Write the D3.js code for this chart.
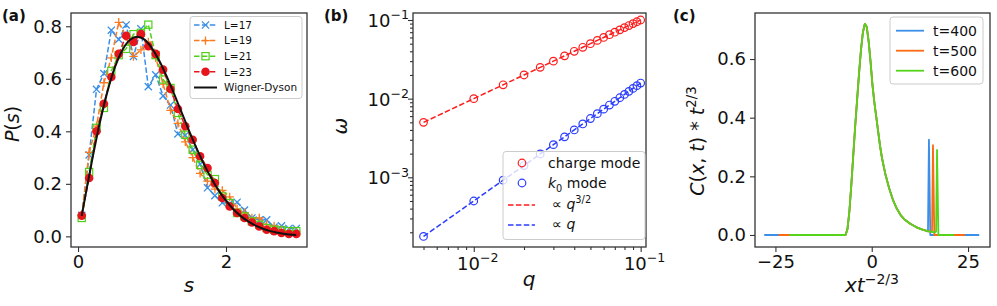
<!DOCTYPE html>
<html>
<head>
<meta charset="utf-8">
<script src="https://cdn.jsdelivr.net/npm/d3@7"></script>
<style>
body { margin: 0; background: #fff; }
svg { font-family: "DejaVu Sans", sans-serif; }
</style>
</head>
<body>
<svg id="fig" width="997" height="306"></svg>
<script>
// ---------- data ----------

// panel (a): level spacing distribution
var sVals = [0.05, 0.15, 0.25, 0.35, 0.45, 0.55, 0.65, 0.75, 0.85, 0.95,
             1.05, 1.15, 1.25, 1.35, 1.45, 1.55, 1.65, 1.75, 1.85, 1.95,
             2.05, 2.15, 2.25, 2.35, 2.45, 2.55, 2.65, 2.75, 2.85, 2.95];
var pL17 = [0.08, 0.31, 0.56, 0.62, 0.785, 0.75, 0.805, 0.685, 0.79, 0.57,
            0.615, 0.535, 0.50, 0.39, 0.385, 0.33, 0.275, 0.185, 0.155, 0.128,
            0.125, 0.13, 0.10, 0.07, 0.062, 0.063, 0.035, 0.04, 0.03, 0.03];
var pL19 = [0.08, 0.32, 0.42, 0.585, 0.68, 0.815, 0.76, 0.685, 0.71, 0.74,
            0.68, 0.58, 0.48, 0.43, 0.36, 0.30, 0.24, 0.21, 0.18, 0.175,
            0.15, 0.105, 0.09, 0.07, 0.07, 0.045, 0.04, 0.025, 0.02, 0.02];
var pL21 = [0.07, 0.245, 0.413, 0.489, 0.63, 0.69, 0.714, 0.77, 0.775, 0.806,
            0.69, 0.597, 0.565, 0.47, 0.387, 0.33, 0.272, 0.235, 0.218, 0.152,
            0.127, 0.089, 0.076, 0.057, 0.044, 0.032, 0.025, 0.023, 0.02, 0.02];
var pL23 = [0.079, 0.222, 0.40, 0.505, 0.607, 0.695, 0.764, 0.74, 0.77, 0.724,
            0.695, 0.635, 0.561, 0.485, 0.419, 0.368, 0.305, 0.26, 0.203, 0.146,
            0.114, 0.089, 0.07, 0.053, 0.038, 0.025, 0.02, 0.013, 0.009, 0.009];
var wdS = [0.05, 0.1, 0.2, 0.3, 0.4, 0.5, 0.6, 0.7, 0.8, 0.9, 1.0, 1.1, 1.2, 1.3, 1.4, 1.5,
           1.6, 1.7, 1.8, 1.9, 2.0, 2.1, 2.2, 2.3, 2.4, 2.5, 2.6, 2.7, 2.8, 2.9, 2.95];
var wdP = [0.078, 0.156, 0.304, 0.439, 0.554, 0.645, 0.710, 0.748, 0.760, 0.749, 0.716, 0.668,
           0.608, 0.542, 0.472, 0.403, 0.337, 0.276, 0.222, 0.175, 0.136, 0.103, 0.077,
           0.057, 0.041, 0.029, 0.020, 0.014, 0.009, 0.006, 0.005];
var aTicksX = [0, 2];
var aTicksY = [0.0, 0.2, 0.4, 0.6, 0.8];

// panel (b): dispersion
var qVals = [0.005, 0.01, 0.015, 0.02, 0.025, 0.03, 0.035, 0.04, 0.045, 0.05,
             0.055, 0.06, 0.065, 0.07, 0.075, 0.08, 0.085, 0.09, 0.095, 0.1];
var wCharge = [0.005, 0.01, 0.015, 0.02, 0.025, 0.03, 0.035, 0.04, 0.045, 0.05,
               0.055, 0.06, 0.065, 0.07, 0.075, 0.08, 0.085, 0.09, 0.095, 0.1];
var wK0 = [0.000177, 0.0005, 0.000919, 0.00141, 0.00198, 0.0026, 0.00327, 0.004, 0.00477, 0.00559,
           0.00645, 0.00735, 0.00829, 0.00926, 0.01027, 0.01131, 0.01239, 0.0135, 0.01464, 0.0158];
var bTicksX = [0.01, 0.1];
var bTicksY = [0.001, 0.01, 0.1];

// panel (c): scaled correlation profile
var peakX = [-6.8, -6.3, -5.8, -5.3, -4.8, -4.3, -3.8, -3.3, -2.8, -2.3, -1.8, -1.3, -0.8, -0.3,
             0.2, 0.7, 1.2, 1.7, 2.2, 2.7, 3.5, 4.5, 5.5, 6.5, 7.5, 8.5, 10, 11.5, 13, 14.5, 15.5, 16.5];
var peakY = [0, 0.02, 0.08, 0.17, 0.27, 0.37, 0.46, 0.55, 0.63, 0.69, 0.72, 0.71, 0.66, 0.59,
             0.51, 0.45, 0.40, 0.35, 0.30, 0.26, 0.21, 0.16, 0.12, 0.09, 0.068, 0.053, 0.038, 0.027,
             0.019, 0.013, 0.011, 0.009];
var tLabels = ["t=400", "t=500", "t=600"];
var spikeX = [14.85, 15.9, 16.95];
var spikeH = [0.325, 0.306, 0.29];
var edgeX = [27.9, 24.2, 21.4];
var cTicksX = [-25, 0, 25];
var cTicksY = [0.0, 0.2, 0.4, 0.6];

// ---------- helpers ----------
var svg = d3.select("#fig");
var spine = "#333";
var tickFont = 18;

function frame(x0, y0, x1, y1) {
    svg.append("rect")
        .attr("x", x0).attr("y", y0)
        .attr("width", x1 - x0).attr("height", y1 - y0)
        .attr("fill", "none").attr("stroke", spine).attr("stroke-width", 1.3);
}

function styleAxis(g) {
    g.selectAll("path.domain").remove();
    g.selectAll(".tick line").attr("stroke", spine).attr("stroke-width", 1.1);
    g.selectAll(".tick text")
        .attr("font-size", tickFont)
        .attr("font-family", "DejaVu Sans")
        .attr("fill", "#111");
}

// text made of pieces, some italic, some raised/lowered
function richText(parent, parts, size) {
    var t = parent.append("text").attr("font-size", size).attr("fill", "#111");
    parts.forEach(function (p) {
        var ts = t.append("tspan").text(p.t);
        if (p.i) ts.attr("font-style", "italic");
        if (p.sup) ts.attr("font-size", size * 0.7).attr("dy", -size * 0.42);
        if (p.sub) ts.attr("font-size", size * 0.7).attr("dy", size * 0.25);
        if (p.back) ts.attr("dy", p.back);
    });
    return t;
}

function marker(g, type, cx, cy, color) {
    var r = 3.6;
    if (type === "x") {
        g.append("path").attr("d", "M" + (cx - r) + "," + (cy - r) + "L" + (cx + r) + "," + (cy + r) +
            "M" + (cx - r) + "," + (cy + r) + "L" + (cx + r) + "," + (cy - r))
            .attr("stroke", color).attr("stroke-width", 1.3).attr("fill", "none");
    } else if (type === "+") {
        r = 4.2;
        g.append("path").attr("d", "M" + (cx - r) + "," + cy + "L" + (cx + r) + "," + cy +
            "M" + cx + "," + (cy - r) + "L" + cx + "," + (cy + r))
            .attr("stroke", color).attr("stroke-width", 1.3).attr("fill", "none");
    } else if (type === "s") {
        g.append("rect").attr("x", cx - r).attr("y", cy - r).attr("width", 2 * r).attr("height", 2 * r)
            .attr("stroke", color).attr("stroke-width", 1.2).attr("fill", "none");
    } else if (type === "o") {
        g.append("circle").attr("cx", cx).attr("cy", cy).attr("r", 4.3).attr("fill", color);
    } else if (type === "ring") {
        g.append("circle").attr("cx", cx).attr("cy", cy).attr("r", 3.8)
            .attr("fill", "none").attr("stroke", color).attr("stroke-width", 1.2);
    }
}

function legendBox(x0, y0, x1, y1) {
    svg.append("rect")
        .attr("x", x0).attr("y", y0).attr("width", x1 - x0).attr("height", y1 - y0)
        .attr("rx", 3).attr("fill", "#fff").attr("fill-opacity", 0.8)
        .attr("stroke", "#ccc").attr("stroke-width", 1);
}

// ---------- panel (a) ----------
var xa = d3.scaleLinear().domain([-0.095, 3.095]).range([71, 307]);
var ya = d3.scaleLinear().domain([-0.0405, 0.8505]).range([247, 13]);

var aSeries = [
    { name: "L=17", vals: pL17, color: "#3a8ee6", mk: "x" },
    { name: "L=19", vals: pL19, color: "#fa7a20", mk: "+" },
    { name: "L=21", vals: pL21, color: "#4fd11b", mk: "s" },
    { name: "L=23", vals: pL23, color: "#e8141c", mk: "o" }
];

var lineA = d3.line().x(function (d) { return xa(d[0]); }).y(function (d) { return ya(d[1]); });
var ga = svg.append("g");

aSeries.forEach(function (s) {
    var pts = sVals.map(function (v, i) { return [v, s.vals[i]]; });
    ga.append("path").attr("d", lineA(pts))
        .attr("fill", "none").attr("stroke", s.color).attr("stroke-width", 1.5)
        .attr("stroke-dasharray", "5.5,2.4");
    pts.forEach(function (p) { marker(ga, s.mk, xa(p[0]), ya(p[1]), s.color); });
});

ga.append("path")
    .attr("d", lineA.curve(d3.curveMonotoneX)(wdS.map(function (v, i) { return [v, wdP[i]]; })))
    .attr("fill", "none").attr("stroke", "#111").attr("stroke-width", 2);

svg.append("g").attr("transform", "translate(0,247)")
    .call(d3.axisBottom(xa).tickValues(aTicksX).tickSize(5).tickPadding(3).tickFormat(d3.format("d")))
    .call(styleAxis);
svg.append("g").attr("transform", "translate(71,0)")
    .call(d3.axisLeft(ya).tickValues(aTicksY).tickSize(5).tickPadding(4).tickFormat(d3.format(".1f")))
    .call(styleAxis);
frame(71, 13, 307, 247);

// legend (a)
legendBox(190, 16.5, 302, 98.5);
aSeries.forEach(function (s, i) {
    var y = 25 + i * 15.6;
    svg.append("line").attr("x1", 194).attr("x2", 217).attr("y1", y).attr("y2", y)
        .attr("stroke", s.color).attr("stroke-width", 1.5).attr("stroke-dasharray", "5.5,2.4");
    marker(svg, s.mk, 205.5, y, s.color);
    svg.append("text").attr("x", 224).attr("y", y + 3.8).attr("font-size", 10.5)
        .attr("fill", "#111").text(s.name);
});
svg.append("line").attr("x1", 194).attr("x2", 217).attr("y1", 87.5).attr("y2", 87.5)
    .attr("stroke", "#111").attr("stroke-width", 2);
svg.append("text").attr("x", 224).attr("y", 91.3).attr("font-size", 10.5)
    .attr("fill", "#111").text("Wigner-Dyson");

richText(svg, [{ t: "P", i: true }, { t: "(" }, { t: "s", i: true }, { t: ")" }], 19)
    .attr("text-anchor", "middle").attr("transform", "translate(19,124) rotate(-90)");
richText(svg, [{ t: "s", i: true }], 20)
    .attr("text-anchor", "middle").attr("x", 189).attr("y", 292);
svg.append("text").attr("x", 2).attr("y", 21).attr("font-size", 15)
    .attr("font-weight", "bold").attr("fill", "#111").text("(a)");

// ---------- panel (b) ----------
var xb = d3.scaleLog().domain([Math.pow(10, -2.364), Math.pow(10, -0.968)]).range([413, 646]);
var yb = d3.scaleLog().domain([Math.pow(10, -3.886), Math.pow(10, -0.911)]).range([247, 13]);

var lineB = d3.line().x(function (d) { return xb(d[0]); }).y(function (d) { return yb(d[1]); });
var gb = svg.append("g");
var bSeries = [
    { vals: wCharge, color: "#ff1a1a" },
    { vals: wK0, color: "#2a3cff" }
];
bSeries.forEach(function (s) {
    var pts = qVals.map(function (q, i) { return [q, s.vals[i]]; });
    gb.append("path").attr("d", lineB(pts))
        .attr("fill", "none").attr("stroke", s.color).attr("stroke-width", 1.5)
        .attr("stroke-dasharray", "5.5,2.4");
    pts.forEach(function (p) { marker(gb, "ring", xb(p[0]), yb(p[1]), s.color); });
});

// minor ticks for the log axes
var minorX = [0.005, 0.006, 0.007, 0.008, 0.009, 0.02, 0.03, 0.04, 0.05, 0.06, 0.07, 0.08, 0.09];
var minorY = [0.0002, 0.0003, 0.0004, 0.0005, 0.0006, 0.0007, 0.0008, 0.0009,
              0.002, 0.003, 0.004, 0.005, 0.006, 0.007, 0.008, 0.009,
              0.02, 0.03, 0.04, 0.05, 0.06, 0.07, 0.08, 0.09];
svg.append("g").attr("transform", "translate(0,247)")
    .call(d3.axisBottom(xb).tickValues(bTicksX).tickSize(5).tickFormat(function () { return ""; }))
    .call(styleAxis);
svg.append("g").attr("transform", "translate(0,247)")
    .call(d3.axisBottom(xb).tickValues(minorX).tickSize(3).tickFormat(function () { return ""; }))
    .call(styleAxis);
svg.append("g").attr("transform", "translate(413,0)")
    .call(d3.axisLeft(yb).tickValues(bTicksY).tickSize(5).tickFormat(function () { return ""; }))
    .call(styleAxis);
svg.append("g").attr("transform", "translate(413,0)")
    .call(d3.axisLeft(yb).tickValues(minorY).tickSize(3).tickFormat(function () { return ""; }))
    .call(styleAxis);

function expLabel(v) { return "\u2212" + Math.round(-Math.log10(v)); }
bTicksX.forEach(function (v) {
    richText(svg, [{ t: "10" }, { t: expLabel(v), sup: true }], tickFont)
        .attr("text-anchor", "middle").attr("x", xb(v) + 4).attr("y", 270);
});
bTicksY.forEach(function (v) {
    richText(svg, [{ t: "10" }, { t: expLabel(v), sup: true }], tickFont)
        .attr("text-anchor", "end").attr("x", 409).attr("y", yb(v) + 7);
});
frame(413, 13, 646, 247);

// legend (b)
legendBox(503, 151.5, 645, 239.5);
marker(svg, "ring", 522, 163, "#ff1a1a");
richText(svg, [{ t: "charge mode" }], 14).attr("x", 548).attr("y", 168);
marker(svg, "ring", 522, 183, "#2a3cff");
richText(svg, [{ t: "k", i: true }, { t: "0", sub: true }, { t: " mode", back: -3.5 }], 14)
    .attr("x", 548).attr("y", 188);
svg.append("line").attr("x1", 508).attr("x2", 535).attr("y1", 205).attr("y2", 205)
    .attr("stroke", "#ff1a1a").attr("stroke-width", 1.5).attr("stroke-dasharray", "5.5,2.4");
richText(svg, [{ t: "\u221d " }, { t: "q", i: true }, { t: "3/2", sup: true }], 14)
    .attr("x", 552).attr("y", 209);
svg.append("line").attr("x1", 508).attr("x2", 535).attr("y1", 225).attr("y2", 225)
    .attr("stroke", "#2a3cff").attr("stroke-width", 1.5).attr("stroke-dasharray", "5.5,2.4");
richText(svg, [{ t: "\u221d " }, { t: "q", i: true }], 14)
    .attr("x", 552).attr("y", 229);

richText(svg, [{ t: "\u03c9", i: true }], 20)
    .attr("text-anchor", "middle").attr("transform", "translate(347,126) rotate(-90)");
richText(svg, [{ t: "q", i: true }], 20)
    .attr("text-anchor", "middle").attr("x", 529).attr("y", 286);
svg.append("text").attr("x", 324).attr("y", 21).attr("font-size", 15)
    .attr("font-weight", "bold").attr("fill", "#111").text("(b)");

// ---------- panel (c) ----------
var xc = d3.scaleLinear().domain([-30.3, 30.7]).range([755, 990]);
var yc = d3.scaleLinear().domain([-0.041, 0.757]).range([247, 13]);
var cColors = ["#3c8fe8", "#fd6a14", "#55d41a"];

var lineC = d3.line().x(function (d) { return xc(d[0]); }).y(function (d) { return yc(d[1]); });
var gc = svg.append("g");

tLabels.forEach(function (lab, k) {
    var pts = [[-edgeX[k], 0]];
    peakX.forEach(function (x, i) {
        if (x < spikeX[k] - 0.3) pts.push([x, peakY[i]]);
    });
    pts.push([spikeX[k] - 0.25, 0.012]);
    pts.push([spikeX[k], spikeH[k]]);
    pts.push([spikeX[k] + 0.35, 0]);
    pts.push([edgeX[k], 0]);
    gc.append("path").attr("d", lineC(pts))
        .attr("fill", "none").attr("stroke", cColors[k]).attr("stroke-width", 1.8)
        .attr("stroke-linejoin", "round");
});

svg.append("g").attr("transform", "translate(0,247)")
    .call(d3.axisBottom(xc).tickValues(cTicksX).tickSize(5).tickPadding(3).tickFormat(d3.format("d")))
    .call(styleAxis);
svg.append("g").attr("transform", "translate(755,0)")
    .call(d3.axisLeft(yc).tickValues(cTicksY).tickSize(5).tickPadding(4).tickFormat(d3.format(".1f")))
    .call(styleAxis);
frame(755, 13, 990, 247);

// legend (c)
legendBox(890, 17, 983, 84);
tLabels.forEach(function (lab, k) {
    var y = 30.7 + k * 20;
    svg.append("line").attr("x1", 896).attr("x2", 924).attr("y1", y).attr("y2", y)
        .attr("stroke", cColors[k]).attr("stroke-width", 1.8);
    svg.append("text").attr("x", 933).attr("y", y + 5).attr("font-size", 14)
        .attr("fill", "#111").text(lab);
});

richText(svg, [{ t: "C", i: true }, { t: "(" }, { t: "x", i: true }, { t: ", " }, { t: "t", i: true },
               { t: ") * " }, { t: "t", i: true }, { t: "2/3", sup: true }], 19)
    .attr("text-anchor", "middle").attr("transform", "translate(704,141) rotate(-90)");
richText(svg, [{ t: "xt", i: true }, { t: "\u22122/3", sup: true }], 20)
    .attr("text-anchor", "middle").attr("x", 872).attr("y", 292);
svg.append("text").attr("x", 673).attr("y", 21).attr("font-size", 15)
    .attr("font-weight", "bold").attr("fill", "#111").text("(c)");
</script>
</body>
</html>
